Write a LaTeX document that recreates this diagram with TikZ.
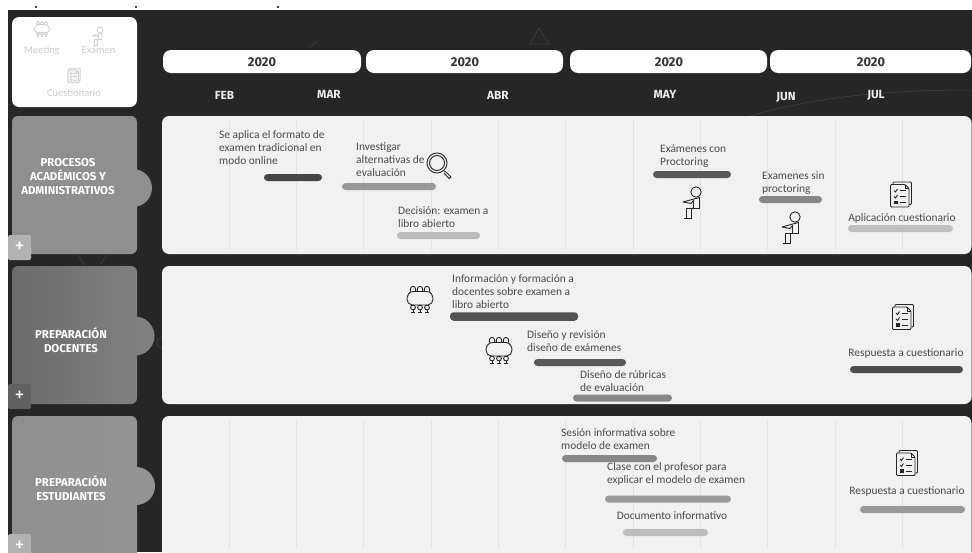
\documentclass[tikz,border=0pt]{standalone}
\usepackage{fontspec}
\setmainfont{Carlito}
\newfontfamily\firaf{Fira Sans}
\definecolor{bgd}{HTML}{262626}
\definecolor{panelc}{HTML}{F1F1F1}
\definecolor{txt}{HTML}{4A4A4A}
\definecolor{gridc}{HTML}{E2E2E2}
\definecolor{faint}{HTML}{454545}
\tikzset{
  panel/.style={fill=panelc,draw=none,rounded corners=7pt},
  lane/.style={draw=none,rounded corners=6pt},
  pill/.style={fill=white,draw=none,rounded corners=8pt},
  plusbox/.style={draw=none,rounded corners=1.5pt,text=white,font=\firaf\fontsize{20}{20}\selectfont,inner sep=0pt,minimum width=23pt,minimum height=25pt},
  bar/.style={draw=none,rounded corners=3.5pt,minimum height=7pt,inner sep=0pt},
  body/.style={anchor=west,align=left,inner sep=0pt,text=txt,font=\fontsize{11.4}{13}\selectfont},
  bodyc/.style={anchor=center,align=center,inner sep=0pt,text=txt,font=\fontsize{11.4}{13}\selectfont},
  lanelabel/.style={align=center,inner sep=0pt,text=white,font=\firaf\fontsize{11.4}{14}\selectfont\bfseries},
  yearlabel/.style={inner sep=0pt,text=black!80,font=\firaf\fontsize{12.8}{13}\selectfont\bfseries},
  month/.style={inner sep=0pt,text=white!92!black,font=\firaf\fontsize{11.8}{13}\selectfont\bfseries},
  legendtext/.style={inner sep=0pt,text=black!20,font=\fontsize{10.5}{11}\selectfont},
  gridl/.style={draw=gridc,line width=0.6pt},
  bgline/.style={draw=faint,line width=0.5pt},
  pics/meet/.style={code={
    \begin{scope}[draw=#1,line width=0.9pt]
      \foreach \dx in {-7,0,7}{
        \draw (\dx-2.6,-7.5) -- (\dx-2.6,-10) arc[start angle=180,end angle=360,radius=2.6] -- (\dx+2.6,-7.5);
        \draw (\dx,8.5) circle[radius=2.4];
        \draw (\dx,11) -- (\dx,13.5) (\dx-2.4,13.5) -- (\dx+2.4,13.5);
      }
      \draw (-7,-7.5) -- (7,-7.5) .. controls (11,-7.5) and (13,-3) .. (13,0)
        .. controls (13,3) and (11,6) .. (8,6) -- (-8,6)
        .. controls (-11,6) and (-13,3) .. (-13,0)
        .. controls (-13,-3) and (-11,-7.5) .. (-7,-7.5);
    \end{scope}}},
  pics/seated/.style={code={
    \begin{scope}[draw=#1,line width=0.9pt]
      \draw (0,0) circle[radius=5.2];
      \draw (-13,10) -- (-4,7.5) -- (3.5,5.5) -- (3.5,16.5) -- (-10,16.5);
      \draw (-13,10) -- (-5,11.5) -- (-3,9);
      \draw (-2.5,8) -- (-2.5,16.5);
      \draw (-10,16.5) -- (-10,26) (-5,16.5) -- (-5,26) (-12,26) -- (-4,26);
    \end{scope}}},
  pics/quest/.style={code={
    \begin{scope}[draw=#1,line width=0.9pt]
      \draw[rounded corners=1pt] (-8,-10) -- (-8,-12.5) -- (10.5,-12.5) -- (10.5,10) -- (8,10);
      \draw[rounded corners=1pt,fill=panelc] (-10.5,-10) -- (4,-10) -- (8,-6) -- (8,12.5) -- (-10.5,12.5) -- cycle;
      \draw (4,-10) -- (4,-6) -- (8,-6);
      \draw (-7,-4) -- (-5.5,-2.5) -- (-3.5,-5.5) (-7,2) -- (-5.5,3.5) -- (-3.5,.5);
      \draw (-1.5,-4) -- (5,-4) (-1.5,2) -- (5,2) (-1.5,8) -- (5,8);
      \fill[#1] (-7,6) rectangle (-3.5,9.5);
    \end{scope}}},
}
\begin{document}
\begin{tikzpicture}[x=1pt,y=-1pt]
\useasboundingbox (0,0) rectangle (972,552);
\fill[white] (0,0) rectangle (972,552);
\fill[bgd] (8,10) rectangle (972,552);
\foreach \tx in {36,136,278}{\fill[black!75] (\tx-1,6) rectangle (\tx+1,7.5);}
% faint background
\draw[bgline] (309,48) -- (317,41);
\draw[bgline] (530,44) -- (539,28) -- (549,44) -- cycle;
\draw[bgline] (750,116) .. controls (800,102) and (860,90) .. (972,90);
\draw[bgline] (78,255) -- (84,265) (107,255) -- (100,265);
\draw[bgline] (163,343) circle[radius=6];
% legend
\node[pill,rounded corners=7pt,fill=white,minimum width=125pt,minimum height=90pt,inner sep=0pt] (legend) at (74.5,62) {};
\pic[scale=.58] at (42,29) {meet={black!18}};
\pic[scale=.58] at (100,30) {seated={black!18}};
\pic[scale=.58] at (74,75.5) {quest={black!18}};
\node[legendtext] (lgm) at (42,50.5) {Meeting};
\node[legendtext] (lge) at (98.5,50.5) {Examen};
\node[legendtext] (lgc) at (74,92.5) {Cuestionario};
% lanes
\fill[black!44] (133,188) circle[radius=19];
\fill[black!50] (135,336) circle[radius=19.5];
\fill[black!42] (136,486) circle[radius=19];
\fill[lane,fill=black!44] (12,116) rectangle (137,254);
\shade[lane,left color=black!58,right color=black!50] (12,266) rectangle (137,404);
\shade[lane,left color=black!44,right color=black!42] (12,416) rectangle (137,570);
\node[lanelabel] (la) at (68,177) {PROCESOS\\ACADÉMICOS Y\\ADMINISTRATIVOS};
\node[lanelabel] (lb) at (71,340) {PREPARACIÓN\\DOCENTES};
\node[lanelabel] (lc) at (71,488) {PREPARACIÓN\\ESTUDIANTES};
\node[plusbox,fill=black!30] (pa) at (19.5,247.5) {+};
\node[plusbox,fill=black!62] (pb) at (19.5,396.5) {+};
\node[plusbox,fill=black!30] (pc) at (19.5,546.5) {+};
% year pills
\node[pill,minimum width=198pt,minimum height=23pt,inner sep=0pt] (y1) at (262,61.5) {};
\node[pill,minimum width=197pt,minimum height=23pt,inner sep=0pt] (y2) at (464.5,61.5) {};
\node[pill,minimum width=197pt,minimum height=23pt,inner sep=0pt] (y3) at (668.5,61.5) {};
\node[pill,minimum width=201pt,minimum height=23pt,inner sep=0pt] (y4) at (870.5,61.5) {};
\node[yearlabel] (t1) at (262,62) {2020};
\node[yearlabel] (t2) at (465,62) {2020};
\node[yearlabel] (t3) at (669,62) {2020};
\node[yearlabel] (t4) at (871,62) {2020};
\node[month] (m1) at (224.5,95) {FEB};
\node[month] (m2) at (329,94) {MAR};
\node[month] (m3) at (498,95) {ABR};
\node[month] (m4) at (665,94) {MAY};
\node[month] (m5) at (786,97) {JUN};
\node[month] (m6) at (876,95) {JUL};
% panels
\fill[panel] (162,116) rectangle (971.5,254);
\fill[panel] (162,266) rectangle (971.5,404);
\fill[panel] (162,416) rectangle (971.5,570);
\foreach \gx in {229,296,363,431,498,565,633,700,767,835,902}{
  \draw[gridl] (\gx,120) -- (\gx,250);
  \draw[gridl] (\gx,420) -- (\gx,549);
}
% bars row 1
\node[bar,fill=black!72,minimum width=58pt] (b1) at (293,177.5) {};
\node[bar,fill=black!40,minimum width=94pt] (b2) at (389,186.5) {};
\node[bar,fill=black!27,minimum width=83pt] (b3) at (438.5,235.5) {};
\node[bar,fill=black!65,minimum width=78pt] (b4) at (692,174.5) {};
\node[bar,fill=black!47,minimum width=63pt] (b5) at (790.5,199.5) {};
\node[bar,fill=black!25,minimum width=105pt] (b6) at (900.5,228.5) {};
% bars row 2
\node[bar,fill=black!68,minimum width=128pt,minimum height=8.5pt] (b7) at (514,316.5) {};
\node[bar,fill=black!65,minimum width=92pt] (b8) at (580,362.5) {};
\node[bar,fill=black!47,minimum width=99pt] (b9) at (622.5,398) {};
\node[bar,fill=black!70,minimum width=113pt] (b10) at (906.5,369.5) {};
% bars row 3
\node[bar,fill=black!47,minimum width=95pt] (b11) at (609.5,458.5) {};
\node[bar,fill=black!40,minimum width=126pt] (b12) at (668,499) {};
\node[bar,fill=black!26,minimum width=85pt] (b13) at (665.5,532.5) {};
\node[bar,fill=black!40,minimum width=105pt] (b14) at (912.5,509.5) {};
% text row 1
\node[body] (a1) at (219,148) {Se aplica el formato de\\examen tradicional en\\modo online};
\node[body] (a2) at (356,160) {Investigar\\alternativas de\\evaluación};
\node[body] (a3) at (398,217.5) {Decisión: examen a\\libro abierto};
\node[body] (a4) at (660,156.5) {Exámenes con\\Proctoring};
\node[body] (a5) at (762,183.5) {Examenes sin\\proctoring};
\node[bodyc] (a6) at (902,218) {Aplicación cuestionario};
% text row 2
\node[body] (c1) at (452,292) {Información y formación a\\docentes sobre examen a\\libro abierto};
\node[body] (c2) at (527,341.5) {Diseño y revisión\\diseño de exámenes};
\node[body] (c3) at (580,381.5) {Diseño de rúbricas\\de evaluación};
\node[bodyc] (c4) at (906,353) {Respuesta a cuestionario};
% text row 3
\node[body] (e1) at (561,439.5) {Sesión informativa sobre\\modelo de examen};
\node[body] (e2) at (607,473.5) {Clase con el profesor para\\explicar el modelo de examen};
\node[bodyc] (e3) at (672,516) {Documento informativo};
\node[bodyc] (e4) at (907,491) {Respuesta a cuestionario};
% icons
\draw[black!80,line width=1pt] (437,163) circle[radius=10] (437,163) circle[radius=7.5];
\draw[black!80,line width=1pt] (444,171) -- (446,172) -- (451,177) -- (449,178.5) -- (444,173);
\pic at (696,192) {seated={black!85}};
\pic at (795,217) {seated={black!85}};
\pic at (901,194.5) {quest={black!85}};
\pic at (903,317) {quest={black!85}};
\pic at (907,463) {quest={black!85}};
\pic at (420,299) {meet={black!85}};
\pic at (499,350) {meet={black!85}};
\end{tikzpicture}
\end{document}
